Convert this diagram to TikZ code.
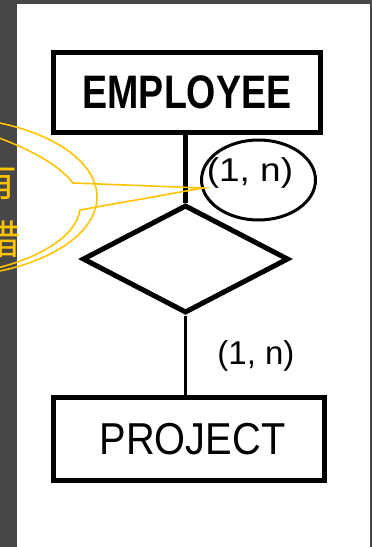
\documentclass[tikz,border=0pt]{standalone}
\usepackage{fontspec}
\setmainfont{Liberation Sans}
\newfontfamily\cjk{Noto Sans CJK SC}
\usetikzlibrary{shapes.geometric}
\definecolor{bandgray}{HTML}{474747}
\definecolor{callyellow}{HTML}{FFC400}
\begin{document}
\begin{tikzpicture}[x=1pt,y=-1pt,
  entity/.style={draw=black, line width=5pt, inner sep=0pt, fill=white},
  relbox/.style={draw=black, line width=5pt, diamond, inner sep=0pt, minimum width=206pt, minimum height=108pt},
  card/.style={anchor=base, inner sep=0pt, font=\fontsize{33}{36}\selectfont},
  callline/.style={draw=callyellow, line width=1.6pt}
]
\useasboundingbox (0,0) rectangle (372,547);
\clip (0,0) rectangle (372,547);
\fill[bandgray] (0,0) rectangle (372,547);
\fill[white] (17,4) rectangle (370,547);

% entities
\node[entity, minimum width=267pt, minimum height=80pt,
      font=\fontsize{47}{50}\selectfont\bfseries] (emp) at (187,92.5)
      {\scalebox{0.8}[1]{EMPLOYEE}};
\node[entity, minimum width=271pt, minimum height=83pt,
      font=\fontsize{44.7}{48}\selectfont] (proj) at (189,439)
      {\hspace*{7pt}\scalebox{0.89}[1]{PROJECT}};

% relationship
\node[relbox] (rel) at (185.5,259) {};

% connectors
\draw[line width=5pt] (rel.north |- emp.south) -- (rel.north);
\draw[line width=2.5pt] (rel.south) -- (rel.south |- proj.north);

% cardinalities
\node[card] (c1) at (250,181) {\scalebox{1.12}[1]{(1, n)}};
\node[card] (c2) at (256,364) {(1, n)};

% hand-drawn loop around the upper cardinality
\draw[line width=3pt] (258.5,180) ellipse [x radius=57, y radius=40];

% yellow callout
\draw[callline] (-60,197) ellipse [x radius=157, y radius=80];
\coordinate (tip) at (203,188);
\draw[callline] (-30,128) .. controls (15,142) and (55,160) .. (73,183)
   -- (tip) -- (80,210)
   .. controls (76,236) and (40,260) .. (-20,272);
\node[anchor=east, inner sep=0pt, text=callyellow, font=\cjk\fontsize{40}{40}\selectfont] (ch1) at (18,181) {有};
\node[anchor=east, inner sep=0pt, text=callyellow, font=\cjk\fontsize{40}{40}\selectfont] (ch2) at (21,239) {错};
\end{tikzpicture}
\end{document}
